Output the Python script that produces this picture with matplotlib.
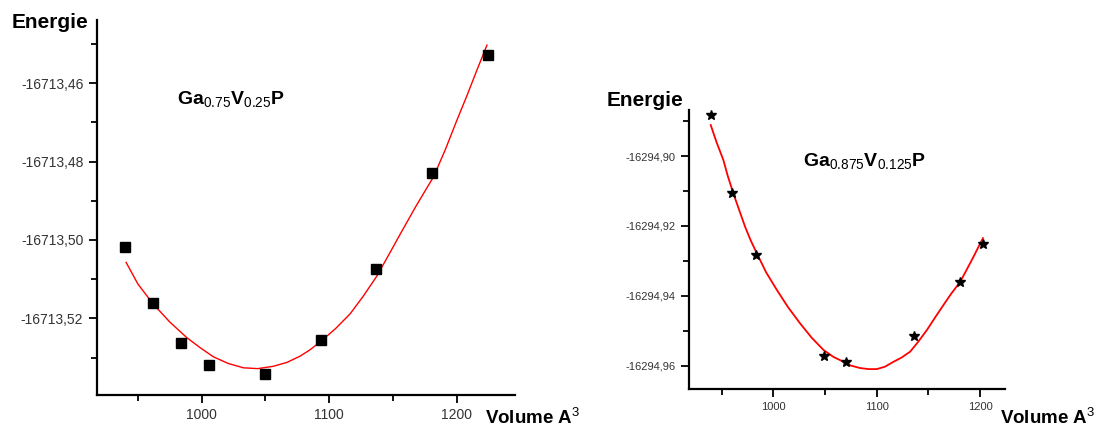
import numpy as np
import matplotlib.pyplot as plt
from matplotlib import font_manager
from matplotlib.ticker import FixedLocator

names = {f.name for f in font_manager.fontManager.ttflist}
has_narrow = 'Liberation Sans Narrow' in names
narrow = 'Liberation Sans Narrow' if has_narrow else 'Liberation Sans'

plt.rcParams['font.family'] = ['Liberation Sans', 'DejaVu Sans']
plt.rcParams['mathtext.fontset'] = 'custom'
plt.rcParams['mathtext.rm'] = narrow
plt.rcParams['mathtext.bf'] = narrow + ':bold'

# Ga0.75V0.25P : calculated points
vol_a = [939.7, 961.7, 983.7, 1005.6, 1049.6, 1093.5, 1136.9, 1180.8, 1224.7]
en_a = [-16713.5018, -16713.5160, -16713.5262, -16713.5320, -16713.5342,
        -16713.5255, -16713.5074, -16713.4829, -16713.4529]
# fitted curve
fit_vol_a = [940.8, 950, 961.7, 975, 988.4, 999, 1009.3, 1021, 1032.8, 1044,
             1056.3, 1067, 1077.3, 1085, 1092.9, 1105, 1116.5, 1127, 1137.4,
             1146, 1155.7, 1168, 1181.8, 1191, 1200.2, 1208, 1215.8, 1223.7]
fit_en_a = [-16713.5057, -16713.5112, -16713.5162, -16713.5209, -16713.5249,
            -16713.5275, -16713.5298, -16713.5315, -16713.5326, -16713.5328,
            -16713.5322, -16713.5312, -16713.5296, -16713.5280, -16713.5260,
            -16713.5226, -16713.5188, -16713.5142, -16713.5092, -16713.5042,
            -16713.4985, -16713.4914, -16713.4839, -16713.4770, -16713.4694,
            -16713.4632, -16713.4567, -16713.4503]

# Ga0.875V0.125P
vol_b = [939.4, 960.3, 983.0, 1049.4, 1070.4, 1136.2, 1180.7, 1202.7]
en_b = [-16294.8883, -16294.9107, -16294.9283, -16294.9572, -16294.9591,
        -16294.9515, -16294.9360, -16294.9252]
fit_vol_b = [939.4, 945, 951.6, 956, 961.3, 967, 972.6, 978, 983.9, 993,
             1003.3, 1014, 1025.8, 1037, 1048.4, 1058, 1067.8, 1075, 1083.9,
             1092, 1100.0, 1108, 1116.2, 1124, 1132.3, 1140, 1148.5, 1156,
             1164.6, 1172, 1180.7, 1187, 1193.6, 1198, 1202.7]
fit_en_b = [-16294.8911, -16294.8960, -16294.9011, -16294.9058, -16294.9107,
            -16294.9155, -16294.9202, -16294.9241, -16294.9278, -16294.9333,
            -16294.9383, -16294.9432, -16294.9479, -16294.9520, -16294.9555,
            -16294.9575, -16294.9589, -16294.9600, -16294.9607, -16294.9610,
            -16294.9610, -16294.9603, -16294.9589, -16294.9577, -16294.9560,
            -16294.9532, -16294.9498, -16294.9464, -16294.9426, -16294.9394,
            -16294.9360, -16294.9325, -16294.9288, -16294.9262, -16294.9235]

xticks = [1000, 1100, 1200]
xminor = [950, 1050, 1150]
yticks_a = [-16713.46, -16713.48, -16713.50, -16713.52]
yminor_a = [-16713.45, -16713.47, -16713.49, -16713.51, -16713.53]
ylabels_a = ['-16713,46', '-16713,48', '-16713,50', '-16713,52']
yticks_b = [-16294.90, -16294.92, -16294.94, -16294.96]
yminor_b = [-16294.89, -16294.91, -16294.93, -16294.95]
ylabels_b = ['-16294,90', '-16294,92', '-16294,94', '-16294,96']

fig = plt.figure(figsize=(10.96, 4.30), dpi=100)
W, H = 1096, 430


def px_axes(x0, y0, x1, y1):
    return fig.add_axes([x0 / W, 1 - y1 / H, (x1 - x0) / W, (y1 - y0) / H])


def style(ax, ytk, ymin, ylab, fs):
    for s in ['top', 'right']:
        ax.spines[s].set_visible(False)
    for s in ['left', 'bottom']:
        ax.spines[s].set_linewidth(1.6)
    ax.set_xticks(xticks)
    ax.set_xticklabels([str(t) for t in xticks])
    ax.xaxis.set_minor_locator(FixedLocator(xminor))
    ax.set_yticks(ytk)
    ax.set_yticklabels(ylab)
    ax.yaxis.set_minor_locator(FixedLocator(ymin))
    ax.tick_params(which='major', direction='out', length=6, width=1.3,
                   labelsize=fs, colors='black', labelcolor='#333333')
    ax.tick_params(which='minor', direction='out', length=4, width=1.3)


ax1 = px_axes(96.5, 20, 515.4, 394.5)
ax1.plot(fit_vol_a, fit_en_a, color='red', lw=1.0, solid_joinstyle='round')
ax1.plot(vol_a, en_a, 's', color='black', ms=7)
ax1.set_xlim(917.6, 1246)
ax1.set_ylim(-16713.5394, -16713.4439)
style(ax1, yticks_a, yminor_a, ylabels_a, 10)

ax2 = px_axes(689, 110, 1005, 389)
ax2.plot(fit_vol_b, fit_en_b, color='red', lw=1.3, solid_joinstyle='round')
ax2.plot(vol_b, en_b, '*', color='black', ms=7)
ax2.set_xlim(918.4, 1224)
ax2.set_ylim(-16294.9667, -16294.8868)
style(ax2, yticks_b, yminor_b, ylabels_b, 8)

# axis titles
fig.text(12 / W, 1 - 22 / H, 'Energie', fontsize=15, fontweight='bold',
         va='center', ha='left')
fig.text(607 / W, 1 - 100 / H, 'Energie', fontsize=15, fontweight='bold',
         va='center', ha='left')
vfs = 15.5 if has_narrow else 13.5
fig.text(485 / W, 1 - 418 / H, 'Volume A$^3$', fontsize=vfs, fontweight='bold',
         family=[narrow, 'DejaVu Sans'], va='center', ha='left')
fig.text(1000 / W, 1 - 418 / H, 'Volume A$^3$', fontsize=vfs, fontweight='bold',
         family=[narrow, 'DejaVu Sans'], va='center', ha='left')

tfs = 14
ax1.text(231 / W, 1 - 100 / H, r'$\mathbf{Ga}_{\mathrm{0.75}}\mathbf{V}_{\mathrm{0.25}}\mathbf{P}$',
         transform=fig.transFigure, fontsize=tfs, ha='center', va='center')
ax2.text(865 / W, 1 - 162 / H, r'$\mathbf{Ga}_{\mathrm{0.875}}\mathbf{V}_{\mathrm{0.125}}\mathbf{P}$',
         transform=fig.transFigure, fontsize=tfs, ha='center', va='center')

fig.savefig('out.png', dpi=100)
